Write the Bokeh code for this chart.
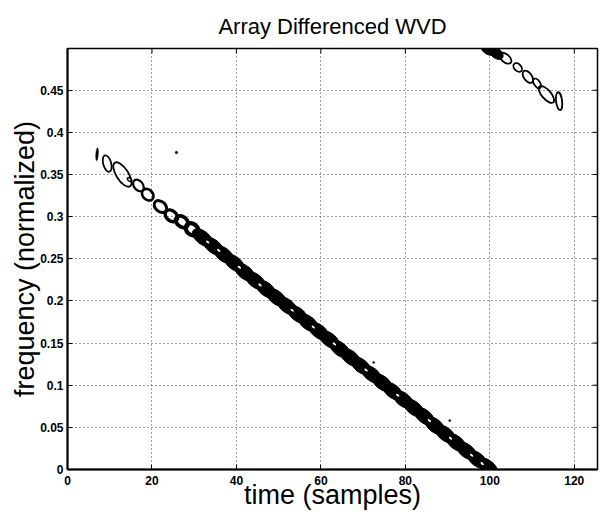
from bokeh.plotting import figure
from bokeh.models import Range1d, FixedTicker
from bokeh.embed import file_html
from bokeh.resources import INLINE
import math

# ---- data ----
x_ticks = [0, 20, 40, 60, 80, 100, 120]
x_tick_labels = ["0", "20", "40", "60", "80", "100", "120"]
y_ticks = [0, 0.05, 0.1, 0.15, 0.2, 0.25, 0.3, 0.35, 0.4, 0.45]
y_tick_labels = ["0", "0.05", "0.1", "0.15", "0.2", "0.25", "0.3", "0.35", "0.4", "0.45"]
x_lim = (0, 125.5)
y_lim = (0, 0.4995)

# sparse (open) contour rings at the upper end of the chirp
ring_t = [9.4, 13.0, 14.7, 16.8, 19.0, 22.0, 24.6, 27.1, 29.5]
ring_f = [0.363, 0.350, 0.344, 0.337, 0.326, 0.312, 0.301, 0.294, 0.285]
# dense (filled) contour band along the chirp
band_t = [32, 34.5, 37, 39.5, 42, 44.5, 47, 49.5, 52, 54.5, 57, 59.5, 62, 64.5,
          67, 69.5, 72, 74.5, 77, 79.5, 82, 84.5, 87, 89.5, 92, 94.5, 97, 99.5]
band_f = [0.275, 0.265, 0.255, 0.245, 0.234, 0.224, 0.214, 0.204, 0.194, 0.184,
          0.174, 0.164, 0.154, 0.143, 0.133, 0.123, 0.113, 0.103, 0.093, 0.083,
          0.073, 0.063, 0.052, 0.042, 0.032, 0.022, 0.012, 0.003]
# small holes inside the dense band
hole_t = [33.2, 35.8, 40.7, 45.6, 53.2, 58.2, 63.2, 70.7, 78.2, 85.7, 90.7, 95.7, 98.2]
hole_f = [0.270, 0.260, 0.240, 0.219, 0.189, 0.169, 0.149, 0.118, 0.088, 0.058, 0.037, 0.017, 0.007]
# wrapped (aliased) part of the chirp, top right
wrap_t = [103.7, 106.6, 109.0, 111.2, 113.4, 116.4]
wrap_f = [0.488, 0.477, 0.466, 0.458, 0.445, 0.437]
wrap_fill_t = [99.5, 101.5]
wrap_fill_f = [0.499, 0.494]
# isolated small contours / specks
spot_t = [7.0, 25.8, 72.5, 90.5]
spot_f = [0.374, 0.376, 0.127, 0.058]

# ---- styles (screen sizes) ----
ring_len = [17, 28, 5, 13, 13, 14, 14, 14, 14]
ring_wid = [8, 12, 3, 9, 10, 10, 10, 10, 11]
ring_ang = [-1.3, -1.0, -0.7, -0.9, -0.8, -0.7, -0.7, -0.7, -0.7]
ring_lw = [1.8, 1.8, 1.5, 2.2, 2.6, 3.0, 3.4, 3.8, 4.2]
wrap_len = [14, 10, 14, 11, 21, 18]
wrap_wid = [8, 7, 8, 6, 9, 6]
wrap_ang = [-0.7, -0.8, -0.95, -1.0, -0.85, -1.45]
spot_len = [13, 2.5, 2, 2]
spot_wid = [2.5, 2.5, 2, 2]
spot_ang = [1.5, 0.0, 0.0, 0.0]

FONT = "Liberation Sans"

p = figure(frame_width=530, frame_height=421,
           x_range=Range1d(*x_lim), y_range=Range1d(*y_lim),
           output_backend="svg", toolbar_location=None,
           title="Array Differenced WVD",
           min_border_left=67, min_border_top=48, min_border_bottom=38, min_border_right=6)

p.title.align = "center"
p.title.vertical_align = "top"
p.title.text_font = FONT
p.title.text_font_size = "22px"
p.title.text_font_style = "normal"
p.title.text_color = "black"
p.title.standoff = 16

xt = FixedTicker(ticks=x_ticks)
yt = FixedTicker(ticks=y_ticks)
for ax, tk, labs, ticks in ((p.xaxis[0], xt, x_tick_labels, x_ticks),
                            (p.yaxis[0], yt, y_tick_labels, y_ticks)):
    ax.ticker = tk
    ax.major_label_overrides = {t: l for t, l in zip(ticks, labs)}
    ax.major_label_text_font = FONT
    ax.major_label_text_font_style = "bold"
    ax.major_label_text_font_size = "12px"
    ax.major_label_text_color = "black"
    ax.axis_label_text_font = FONT
    ax.axis_label_text_font_style = "normal"
    ax.axis_label_text_font_size = "27px"
    ax.axis_label_text_color = "black"
    ax.major_tick_in = 5
    ax.major_tick_out = 0
    ax.minor_tick_in = 0
    ax.minor_tick_out = 0
    ax.axis_line_width = 2
    ax.axis_line_color = "black"
    ax.major_tick_line_color = "black"

p.xaxis.major_label_standoff = 6
p.xaxis.axis_label_standoff = -8
p.yaxis.major_label_standoff = 4
p.yaxis.axis_label_standoff = -3
p.xaxis.axis_label = "time (samples)"
p.yaxis.axis_label = "frequency (normalized)"

p.outline_line_color = "black"
p.outline_line_width = 1.5

for g, tk in ((p.xgrid, xt), (p.ygrid, yt)):
    g.ticker = tk
    g.grid_line_color = "black"
    g.grid_line_alpha = 0.75
    g.grid_line_dash = "1 3"
    g.grid_line_width = 1

# inward tick marks on the top and right edges of the box
p.ray(x=x_ticks, y=[y_lim[1]] * len(x_ticks), length=5, length_units="screen",
      angle=-math.pi / 2, line_color="black", line_width=1)
p.ray(x=[x_lim[1]] * len(y_ticks), y=y_ticks, length=5, length_units="screen",
      angle=math.pi, line_color="black", line_width=1)

# open rings
p.ellipse(x=ring_t, y=ring_f, width=ring_len, height=ring_wid, angle=ring_ang,
          width_units="screen", height_units="screen",
          fill_color=None, line_color="black", line_width=ring_lw)
# dense band
p.ellipse(x=band_t, y=band_f, width=24, height=13, angle=-0.67,
          width_units="screen", height_units="screen",
          fill_color="black", line_color="black", line_width=1)
p.ellipse(x=hole_t, y=hole_f, width=4, height=2, angle=-0.67,
          width_units="screen", height_units="screen",
          fill_color="white", line_color=None)
# wrapped part
p.ellipse(x=wrap_fill_t, y=wrap_fill_f, width=16, height=10, angle=-0.67,
          width_units="screen", height_units="screen",
          fill_color="black", line_color="black")
p.ellipse(x=wrap_t, y=wrap_f, width=wrap_len, height=wrap_wid, angle=wrap_ang,
          width_units="screen", height_units="screen",
          fill_color=None, line_color="black", line_width=1.8)
# isolated spots
p.ellipse(x=spot_t, y=spot_f, width=spot_len, height=spot_wid, angle=spot_ang,
          width_units="screen", height_units="screen",
          fill_color="black", line_color="black", line_width=0.5)

open("out.html", "w").write(file_html(p, INLINE))
